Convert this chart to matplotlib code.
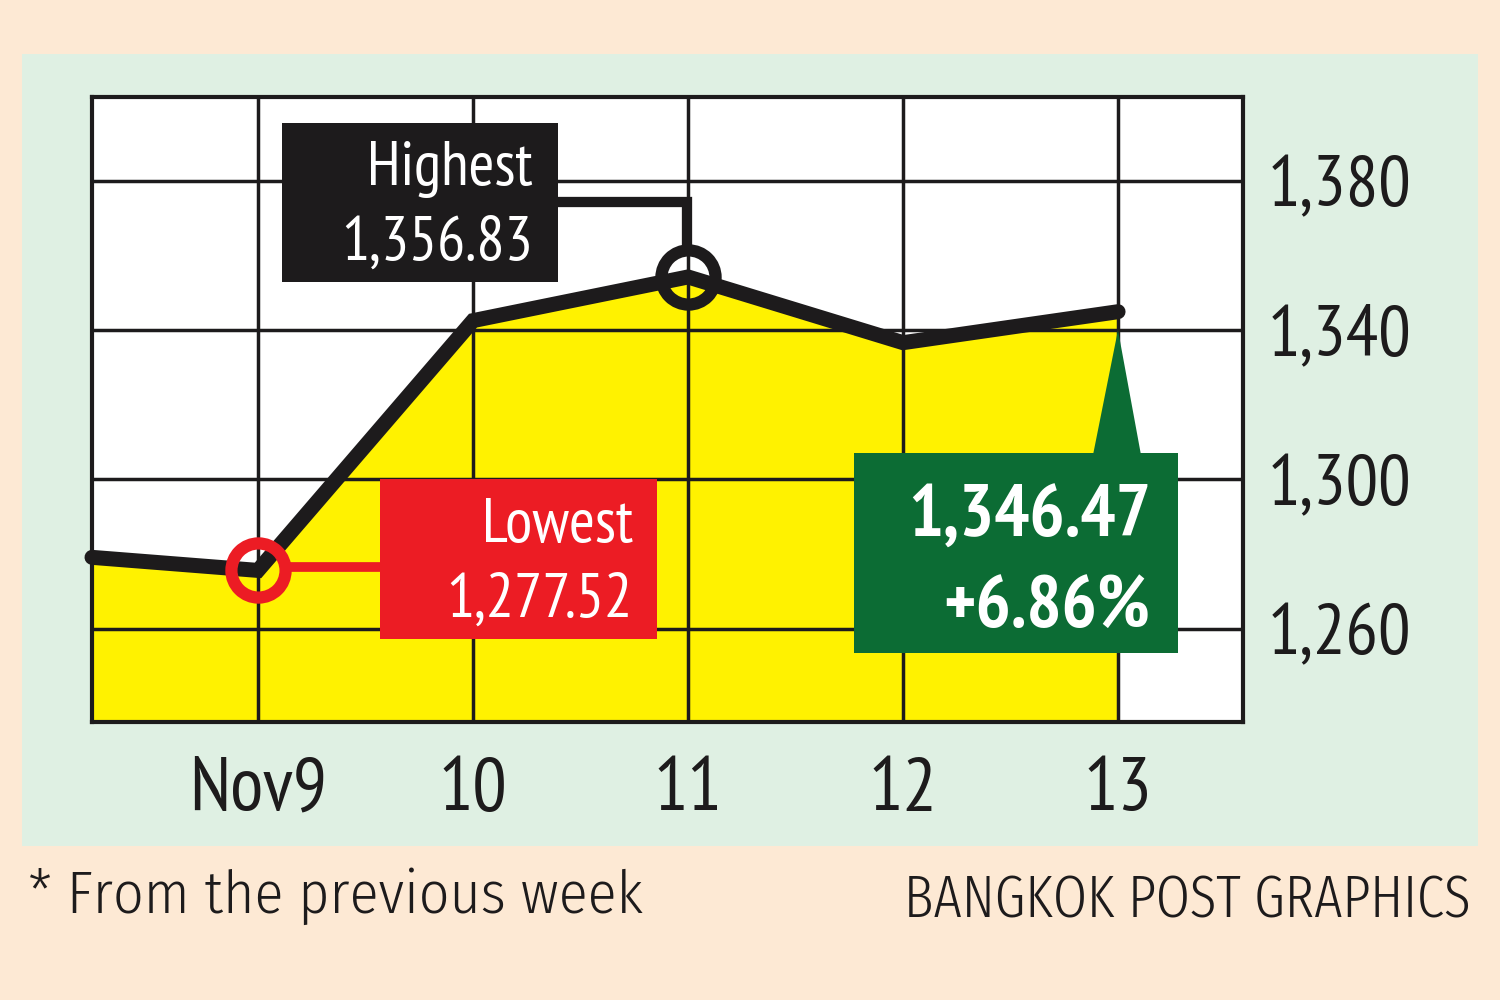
import os
import matplotlib
matplotlib.use("Agg")
import matplotlib.pyplot as plt
import matplotlib.font_manager as fm
from matplotlib.font_manager import FontProperties
from matplotlib.patches import Rectangle, Polygon
from matplotlib.lines import Line2D

# ---------------- data ----------------
days = ["Nov9", "10", "11", "12", "13"]
closes = [1275.6, 1342.5, 1354.2, 1336.6, 1344.9]
prev_stub = 1279.1
yticks = [1260, 1300, 1340, 1380]
ytick_labels = ["1,260", "1,300", "1,340", "1,380"]
high_label = ["Highest", "1,356.83"]
low_label = ["Lowest", "1,277.52"]
last_label = ["1,346.47", "+6.86%"]
high_idx = 2
low_idx = 0
footnote = "* From the previous week"
credit = "BANGKOK POST GRAPHICS"

# ---------------- style ----------------
PEACH = "#fde9d4"
MINT = "#dff0e3"
YELLOW = "#fff200"
RED = "#ec1c24"
GREEN = "#0c6c34"
DARK = "#1d1b1c"
W, H = 1500, 1000


def find_file(families, weight):
    for fam in families:
        best, bestd = None, None
        for f in fm.fontManager.ttflist:
            if f.name != fam or f.style != "normal" or "[" in os.path.basename(f.fname):
                continue
            w = f.weight if isinstance(f.weight, (int, float)) else fm.weight_dict.get(f.weight, 400)
            d = abs(w - weight)
            if bestd is None or d < bestd:
                best, bestd = f, d
        if best is not None and bestd <= 100:
            return best.fname
    return None


MAIN = ["PT Sans Narrow", "Fira Sans Condensed", "Open Sans Condensed", "Roboto Condensed"]
FOOT = ["Fira Sans Condensed", "PT Sans Narrow", "Roboto Condensed"]
LIGHT = ["Fira Sans Extra Condensed", "Fira Sans Condensed", "Roboto Condensed", "PT Sans Narrow"]


def fprop(weight, size, fams=MAIN):
    fn = find_file(fams, weight)
    if fn:
        return FontProperties(fname=fn, size=size)
    return FontProperties(family=["Roboto", "DejaVu Sans"], weight=weight, size=size)


def fx(x):
    return x / W


def fy(y):
    return 1 - y / H


fig = plt.figure(figsize=(15, 10), dpi=100)
fig.patch.set_facecolor(PEACH)
fig.add_artist(Rectangle((fx(22), fy(846)), (1478 - 22) / W, (846 - 54) / H,
                         transform=fig.transFigure, fc=MINT, ec="none", zorder=-1))

ax = fig.add_axes([fx(92), fy(722), (1243 - 92) / W, (722 - 97) / H])
ax.set_facecolor("white")
xlim = (-0.772, 4.581)
ylim = (1235.0, 1402.4)
ax.set_xlim(*xlim)
ax.set_ylim(*ylim)

xs = [xlim[0]] + list(range(len(days)))
ys = [prev_stub] + closes
ax.fill_between(xs, ys, ylim[0], color=YELLOW, lw=0, zorder=1)
ax.plot(xs, ys, color=DARK, lw=10.8, solid_capstyle="round", solid_joinstyle="miter",
        zorder=3, clip_on=False)

ax.plot(low_idx, closes[low_idx], marker="o", ms=39, mfc="none", mec=RED, mew=8.8,
        zorder=5, clip_on=False)
ax.plot(high_idx, closes[high_idx], marker="o", ms=39, mfc="none", mec=DARK, mew=8.8,
        zorder=5, clip_on=False)

ax.set_axisbelow("line")
ax.set_xticks(range(len(days)))
ax.set_xticklabels(days)
ax.set_yticks(yticks)
ax.set_yticklabels(ytick_labels)
ax.grid(True, color=DARK, lw=2.5)
ax.yaxis.tick_right()
ax.tick_params(axis="both", length=0)
ax.tick_params(axis="y", pad=18)
ax.tick_params(axis="x", pad=25)
for lab in ax.get_yticklabels():
    lab.set_fontproperties(fprop(400, 52))
    lab.set_color(DARK)
for lab in ax.get_xticklabels():
    lab.set_fontproperties(fprop(400, 55))
    lab.set_color(DARK)
for sp in ax.spines.values():
    sp.set_linewidth(3.0)
    sp.set_color(DARK)

# ---------------- annotations ----------------
# Highest box
fig.add_artist(Line2D([fx(550), fx(687), fx(687)], [fy(202), fy(202), fy(246)],
                      transform=fig.transFigure, color=DARK, lw=7.4,
                      solid_joinstyle="miter", zorder=3))
fig.add_artist(Rectangle((fx(282), fy(282)), (558 - 282) / W, (282 - 123) / H,
                         transform=fig.transFigure, fc=DARK, ec="none", zorder=3))
fig.text(fx(533), fy(185), high_label[0], ha="right", va="baseline", color="white",
         fontproperties=fprop(400, 45), zorder=4)
fig.text(fx(533), fy(260), high_label[1], ha="right", va="baseline", color="white",
         fontproperties=fprop(400, 45), zorder=4)

# Lowest box
fig.add_artist(Line2D([fx(288), fx(390)], [fy(567), fy(567)],
                      transform=fig.transFigure, color=RED, lw=7.0, zorder=3))
fig.add_artist(Rectangle((fx(380), fy(639)), (657 - 380) / W, (639 - 479) / H,
                         transform=fig.transFigure, fc=RED, ec="none", zorder=3))
fig.text(fx(633), fy(542), low_label[0], ha="right", va="baseline", color="white",
         fontproperties=fprop(400, 45), zorder=4)
fig.text(fx(633), fy(617), low_label[1], ha="right", va="baseline", color="white",
         fontproperties=fprop(400, 45), zorder=4)

# Last value box
fig.add_artist(Polygon([(fx(1093), fy(455)), (fx(1118), fy(330)), (fx(1141), fy(455))],
                       closed=True, transform=fig.transFigure, fc=GREEN, ec="none", zorder=3))
fig.add_artist(Rectangle((fx(854), fy(653)), (1178 - 854) / W, (653 - 453) / H,
                         transform=fig.transFigure, fc=GREEN, ec="none", zorder=3))
fig.text(fx(1151), fy(537), last_label[0], ha="right", va="baseline", color="white",
         fontproperties=fprop(700, 53), zorder=4)
fig.text(fx(1150), fy(627), last_label[1], ha="right", va="baseline", color="white",
         fontproperties=fprop(700, 53), zorder=4)

# ---------------- footer ----------------
fig.text(fx(28), fy(913), footnote, ha="left", va="baseline", color=DARK,
         fontproperties=fprop(300, 43, FOOT))
fig.text(fx(1470), fy(918), credit, ha="right", va="baseline", color=DARK,
         fontproperties=fprop(300, 43, LIGHT))

fig.savefig("out.png", dpi=100, facecolor=PEACH)
